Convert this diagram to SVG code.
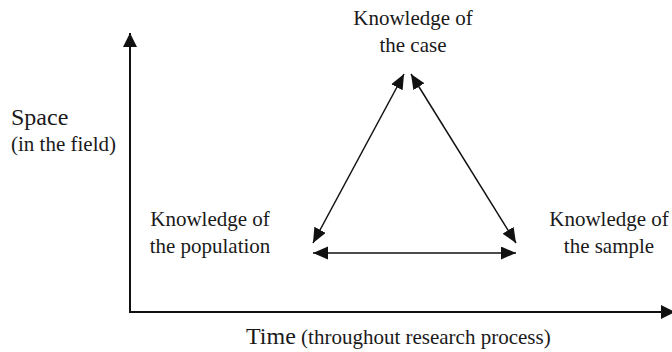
<svg xmlns="http://www.w3.org/2000/svg" width="672" height="352" viewBox="0 0 672 352">
<style>
text{font-family:'Liberation Serif','Times New Roman',Tinos,'DejaVu Serif',serif;fill:#1a1a1a;font-size:21px}
.big{font-size:24px}
.ax{fill:none;stroke:#111;stroke-width:2}
.ln{fill:none;stroke:#111;stroke-width:1.5}
</style>
<defs>
<marker id="ah" markerUnits="userSpaceOnUse" markerWidth="16" markerHeight="14" refX="15" refY="6.5" orient="auto-start-reverse"><path d="M0,0 L15,6.5 L0,13 z" fill="#111"/></marker>
<marker id="axh" markerUnits="userSpaceOnUse" markerWidth="15" markerHeight="15" refX="14" refY="7" orient="auto-start-reverse"><path d="M0,0 L14,7 L0,14 z" fill="#111"/></marker>
</defs>
<rect width="672" height="352" fill="#fff"/>
<g id="axes">
<path class="ax" d="M130,33 V312 H675" marker-start="url(#axh)" marker-end="url(#axh)"/>
<text class="big" x="11" y="125" font-family="Liberation Serif, serif">Space</text>
<text x="11" y="151" font-family="Liberation Serif, serif">(in the field)</text>
<text x="246" y="344" font-family="Liberation Serif, serif"><tspan class="big">Time</tspan> (throughout research process)</text>
</g>
<g id="node-case" font-family="Liberation Serif, serif">
<text x="413" y="25" text-anchor="middle">Knowledge of</text>
<text x="413" y="52" text-anchor="middle">the case</text>
</g>
<g id="node-population">
<text x="210" y="226" text-anchor="middle">Knowledge of</text>
<text x="210" y="253" text-anchor="middle">the population</text>
</g>
<g id="node-sample">
<text x="609" y="226" text-anchor="middle">Knowledge of</text>
<text x="609" y="253" text-anchor="middle">the sample</text>
</g>
<g id="connectors">
<line class="ln" x1="313" y1="243" x2="404" y2="74" marker-start="url(#ah)" marker-end="url(#ah)"/>
<line class="ln" x1="516" y1="243" x2="411" y2="74" marker-start="url(#ah)" marker-end="url(#ah)"/>
<line class="ln" x1="313" y1="253" x2="516" y2="253" marker-start="url(#ah)" marker-end="url(#ah)"/>
</g>
</svg>
